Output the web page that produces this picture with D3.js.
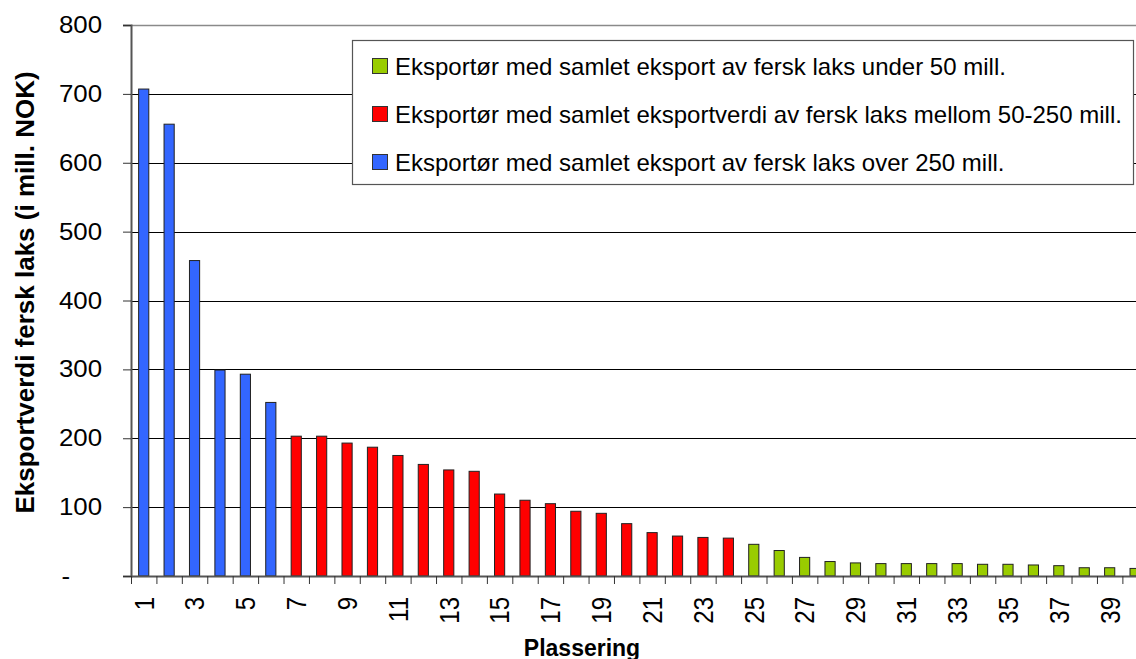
<!DOCTYPE html>
<html>
<head>
<meta charset="utf-8">
<script src="https://cdn.jsdelivr.net/npm/d3@7"></script>
<style>
  html, body { margin: 0; padding: 0; background: #fff; }
  svg { display: block; font-family: "Liberation Sans", Arial, sans-serif; }
</style>
</head>
<body>
<svg id="chart" width="1136" height="659"></svg>
<script>
// ---- data ----
const categories = d3.range(1, 41).map(String);
const values = [707, 656, 458, 299, 293, 252, 203, 203, 193, 187,
                175, 162, 154, 152, 119, 110, 105, 94, 91, 76,
                63, 58, 56, 55, 46, 37, 27, 21, 19, 18,
                18, 18, 18, 17, 17, 16, 15, 12, 12, 11];
const groups = ["over", "over", "over", "over", "over", "over",
                "mid", "mid", "mid", "mid", "mid", "mid", "mid", "mid", "mid", "mid",
                "mid", "mid", "mid", "mid", "mid", "mid", "mid", "mid",
                "under", "under", "under", "under", "under", "under", "under", "under",
                "under", "under", "under", "under", "under", "under", "under", "under"];
const seriesKeys = ["under", "mid", "over"];
const seriesLabels = [
  "Eksportør med samlet eksport av fersk laks under 50 mill.",
  "Eksportør med samlet eksportverdi av fersk laks mellom 50-250 mill.",
  "Eksportør med samlet eksport av fersk laks over 250 mill."
];
const seriesColors = ["#99CC00", "#FF0000", "#3366FF"];
const yTicks = [0, 100, 200, 300, 400, 500, 600, 700, 800];
const xLabelTicks = categories.filter((c, i) => i % 2 === 0);
const yTitle = "Eksportverdi fersk laks (i mill. NOK)";
const xTitle = "Plassering";

// ---- layout ----
const svg = d3.select("#chart");
const pLeft = 131, pRight = 1147.8, pTop = 25, pBottom = 576;

const x = d3.scaleBand().domain(categories).range([pLeft, pRight])
  .paddingInner(0.6).paddingOuter(0.3);
const xb = d3.scaleLinear().domain([0, categories.length]).range([pLeft, pRight]);
const y = d3.scaleLinear().domain([0, 800]).range([pBottom, pTop]);
const color = d3.scaleOrdinal().domain(seriesKeys).range(seriesColors);

// gridlines
svg.append("g").selectAll("line").data(yTicks.filter(d => d > 0 && d < 800)).join("line")
  .attr("x1", pLeft).attr("x2", 1136)
  .attr("y1", d => Math.round(y(d)) + 0.5).attr("y2", d => Math.round(y(d)) + 0.5)
  .attr("stroke", "#000").attr("stroke-width", 1);
// top border
svg.append("line").attr("x1", pLeft).attr("x2", 1136)
  .attr("y1", Math.round(y(800)) + 0.5).attr("y2", Math.round(y(800)) + 0.5)
  .attr("stroke", "#8a8a8a").attr("stroke-width", 1.5);

// bars
svg.append("g").selectAll("rect").data(values).join("rect")
  .attr("x", (d, i) => x(categories[i]))
  .attr("y", d => y(d))
  .attr("width", x.bandwidth())
  .attr("height", d => y(0) - y(d))
  .attr("fill", (d, i) => color(groups[i]))
  .attr("stroke", "#222").attr("stroke-width", 1);

// y axis
const yAxis = svg.append("g").attr("transform", `translate(${pLeft},0)`)
  .call(d3.axisLeft(y).tickValues(yTicks).tickSize(8).tickPadding(21)
    .tickFormat(d => d === 0 ? "-" : d));
yAxis.select(".domain").attr("stroke", "#555").attr("stroke-width", 2);
yAxis.selectAll(".tick line").attr("stroke", "#333");
yAxis.selectAll(".tick text").attr("font-size", 23.5).attr("fill", "#000")
  .attr("font-family", "Liberation Sans, Arial, sans-serif")
  .attr("x", d => (d === 0 ? -61 : -29) / 1.1)
  .attr("transform", "scale(1.1,1)");

// x axis ticks (category boundaries)
const xAxisTicks = svg.append("g").attr("transform", `translate(0,${pBottom})`)
  .call(d3.axisBottom(xb).tickValues(d3.range(0, categories.length + 1))
    .tickSize(8).tickFormat("").tickSizeOuter(0));
xAxisTicks.select(".domain").attr("stroke", "#555").attr("stroke-width", 2);
xAxisTicks.selectAll(".tick line").attr("stroke", "#333");

// x labels
const xAxisLabels = svg.append("g").attr("transform", `translate(0,${pBottom})`)
  .call(d3.axisBottom(x).tickValues(xLabelTicks).tickSize(0));
xAxisLabels.select(".domain").remove();
xAxisLabels.selectAll(".tick text")
  .attr("font-size", 24).attr("fill", "#000")
  .attr("font-family", "Liberation Sans, Arial, sans-serif")
  .attr("text-anchor", "end")
  .attr("transform", "translate(0,21) rotate(-90) scale(1,1.14)")
  .attr("x", 0).attr("y", 0).attr("dy", "0.36em");

// axis titles
svg.append("text")
  .attr("transform", "translate(33.5,292.5) rotate(-90)")
  .attr("text-anchor", "middle").attr("font-weight", "bold").attr("font-size", 26)
  .text(yTitle);
svg.append("text")
  .attr("x", 582).attr("y", 656)
  .attr("text-anchor", "middle").attr("font-weight", "bold").attr("font-size", 23)
  .text(xTitle);

// legend
const leg = svg.append("g");
leg.append("rect").attr("x", 352.5).attr("y", 40.5).attr("width", 781).attr("height", 144)
  .attr("fill", "#fff").attr("stroke", "#555").attr("stroke-width", 1.2);
const rows = leg.selectAll("g.row").data(seriesKeys).join("g").attr("class", "row")
  .attr("transform", (d, i) => `translate(372,${66 + i * 48})`);
rows.append("rect").attr("x", 0.5).attr("y", -7.5).attr("width", 15).attr("height", 15)
  .attr("fill", (d, i) => seriesColors[i]).attr("stroke", "#333");
rows.append("text").attr("x", 23).attr("y", 0).attr("dy", "0.36em")
  .attr("font-size", 24).attr("fill", "#000")
  .text((d, i) => seriesLabels[i]);
</script>
</body>
</html>
